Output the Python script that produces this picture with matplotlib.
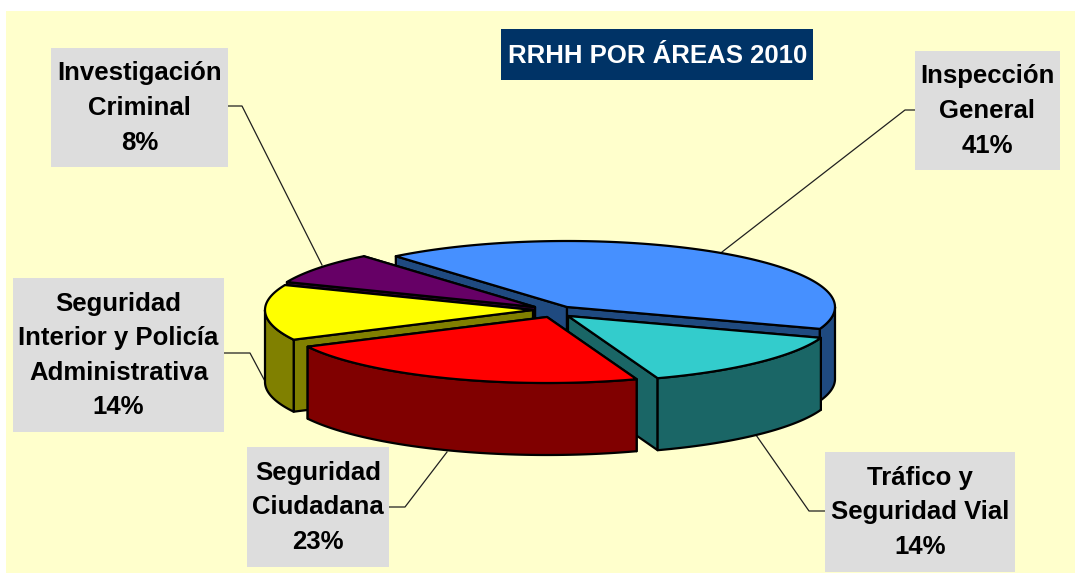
import numpy as np
import matplotlib
matplotlib.use('Agg')
import matplotlib.pyplot as plt
from matplotlib.patches import Polygon, Rectangle

plt.rcParams['font.family'] = ['Liberation Sans', 'DejaVu Sans']

# datos (estimados, las etiquetas redondean a entero)
areas = ["Inspección\nGeneral", "Tráfico y\nSeguridad Vial", "Seguridad\nCiudadana",
         "Seguridad\nInterior y Policía\nAdministrativa", "Investigación\nCriminal"]
valores = [41.4, 14.2, 23.0, 13.6, 7.8]
titulo = "RRHH POR ÁREAS 2010"

colores = ["#4690FF", "#33CCCC", "#FF0000", "#FFFF00", "#660066"]
lados = ["#1F4A80", "#1A6666", "#800000", "#808000", "#330033"]

# centro de cada porcion (explotado) en pixeles
centros = [(567, 307), (568, 316), (547, 317), (533, 310), (535, 307)]
rx, ry, alto = 268, 66, 72
inicio = 129.7

# cajas: x0, y0, x1, y1
cajas = [(915, 51, 1060, 170), (825, 452, 1015, 572), (247, 447, 389, 567),
         (13, 278, 224, 432), (51, 48, 228, 167)]
guias = [[(915, 110), (905, 110), (722, 252)],
         [(825, 511), (809, 511), (756, 435)],
         [(389, 507), (405, 507), (447, 452)],
         [(224, 353), (250, 353), (267, 385)],
         [(228, 106), (242, 106), (322, 265)]]

fig = plt.figure(figsize=(10.79, 5.78), dpi=100)
ax = fig.add_axes([0, 0, 1, 1])
ax.set_xlim(0, 1079)
ax.set_ylim(578, 0)
ax.axis('off')

ax.add_patch(Rectangle((6, 11), 1069, 562, fc="#FFFFCC", ec="none", zorder=0))


def punto(c, t):
    return c[0] + rx * np.cos(np.radians(t)), c[1] - ry * np.sin(np.radians(t))


def arco(c, t0, t1):
    ts = np.linspace(t0, t1, 120)
    return np.column_stack([c[0] + rx * np.cos(np.radians(ts)), c[1] - ry * np.sin(np.radians(ts))])


def pared(p, q, color, z):
    ax.add_patch(Polygon([p, q, (q[0], q[1] + alto), (p[0], p[1] + alto)], closed=True,
                         fc=color, ec="black", lw=1.6, joinstyle='round', zorder=z))


# guias primero, el pastel queda encima
for g in guias:
    xs, ys = zip(*g)
    ax.plot(xs, ys, color="#202020", lw=0.9, zorder=1)

# angulos de cada porcion a partir de los valores
barrido = np.array(valores) / sum(valores) * 360
t0s = inicio - np.concatenate([[0], np.cumsum(barrido)[:-1]])
t1s = t0s - barrido

# orden de pintado, de atras hacia adelante
orden = [0, 4, 3, 1, 2]
for n, i in enumerate(orden):
    c, t0, t1 = centros[i], t0s[i], t1s[i]
    z = 2 + n
    # primero la pared radial de mas atras
    for q in sorted([punto(c, t0), punto(c, t1)], key=lambda p: p[1]):
        pared(c, q, lados[i], z)
    # pared exterior: solo la parte que mira al frente (sin t < 0)
    for k in (-1, 0):
        a = max(t1, 360 * k - 180)
        b = min(t0, 360 * k)
        if b > a:
            arriba = arco(c, b, a)
            abajo = arriba[::-1] + [0, alto]
            ax.add_patch(Polygon(np.vstack([arriba, abajo]), closed=True, fc=lados[i], ec="black",
                                 lw=1.6, joinstyle='round', zorder=z))
    tapa = np.vstack([[c], arco(c, t0, t1)])
    ax.add_patch(Polygon(tapa, closed=True, fc=colores[i], ec="black", lw=1.6, joinstyle='round', zorder=z))

# etiquetas
for nombre, v, b in zip(areas, valores, cajas):
    ax.add_patch(Rectangle((b[0], b[1]), b[2] - b[0], b[3] - b[1], fc="#DDDDDD", ec="none", zorder=10))
    ax.text((b[0] + b[2]) / 2, (b[1] + b[3]) / 2 + 0.5, "%s\n%d%%" % (nombre, round(v)), ha='center', va='center',
            fontsize=18.5, fontweight='bold', color="black", linespacing=1.56, zorder=11)

# titulo
ax.add_patch(Rectangle((501, 29), 312, 51, fc="#003366", ec="none", zorder=10))
ax.text(657.5, 56, titulo, ha='center', va='center', fontsize=18.5, fontweight='bold', color="white", zorder=11)

fig.savefig("out.png", dpi=100)
